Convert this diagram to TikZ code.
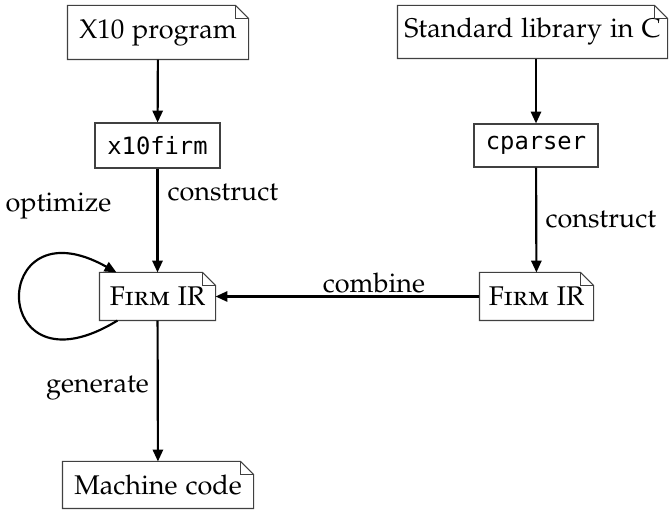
\documentclass[tikz,border=0pt]{standalone}
\usepackage{fontspec}
\newfontfamily\codefont{DejaVu Sans Mono}
\usepackage[T1]{fontenc}
\usepackage[sc]{mathpazo}
\usetikzlibrary{arrows.meta}
\tikzset{
  docnode/.style={inner sep=0pt, align=center, font=\fontsize{10}{12}\selectfont},
  codenode/.style={draw=black!75, line width=0.4pt, inner sep=0pt, font=\codefont\fontsize{8.8}{11}\selectfont},
  lbl/.style={inner sep=0pt, font=\fontsize{10}{12}\selectfont},
  flow/.style={line width=0.8pt, -{Triangle[length=4.4pt,width=3.8pt]}},
}
\begin{document}
\begin{tikzpicture}[x=0.37pt,y=-0.37pt]
\useasboundingbox (0,0) rectangle (671,510);
\node[docnode, minimum width=180*0.37pt, minimum height=53*0.37pt] (x10) at (158,32.5) {X10 program};
\node[docnode, minimum width=269*0.37pt, minimum height=52*0.37pt] (stdc) at (532.5,32) {Standard library in C};
\node[codenode, minimum width=125*0.37pt, minimum height=45*0.37pt] (x10firm) at (157.5,145.5) {x10firm};
\node[codenode, minimum width=124*0.37pt, minimum height=43*0.37pt] (cparser) at (536,145.5) {cparser};
\node[docnode, minimum width=115*0.37pt, minimum height=47*0.37pt] (firmL) at (157.5,296.5) {\textsc{Firm} IR};
\node[docnode, minimum width=113*0.37pt, minimum height=47*0.37pt] (firmR) at (536.5,296.5) {\textsc{Firm} IR};
\node[docnode, minimum width=190*0.37pt, minimum height=46*0.37pt] (mc) at (158,485) {Machine code};
\foreach \n in {x10,stdc,firmL,firmR,mc}{
  \draw[draw=black!75, line width=0.4pt]
    (\n.south west) -- (\n.south east) -- ([yshift=-13*0.37pt]\n.north east)
    -- ([xshift=-13*0.37pt]\n.north east) -- (\n.north west) -- cycle;
  \draw[draw=black!75, line width=0.4pt]
    ([xshift=-13*0.37pt]\n.north east) |- ([yshift=-13*0.37pt]\n.north east);
}
\draw[flow] (x10) -- (x10firm);
\draw[flow] (stdc.south -| cparser.north) -- (cparser);
\draw[flow] (x10firm) -- (firmL);
\draw[flow] (cparser) -- (firmR);
\draw[flow] (firmR) -- (firmL);
\draw[flow] (firmL) -- (mc);
\draw[flow] ([xshift=18*0.37pt]firmL.south west) .. controls (-12,400) and (-12,200) .. ([xshift=17*0.37pt]firmL.north west);
\node[lbl, anchor=west] (lc1) at (167,193) {construct};
\node[lbl, anchor=west] (lc2) at (545,220) {construct};
\node[lbl] (lcomb) at (374,283) {combine};
\node[lbl] (lopt) at (58.5,206) {optimize};
\node[lbl] (lgen) at (97.5,388) {generate};
\end{tikzpicture}
\end{document}
